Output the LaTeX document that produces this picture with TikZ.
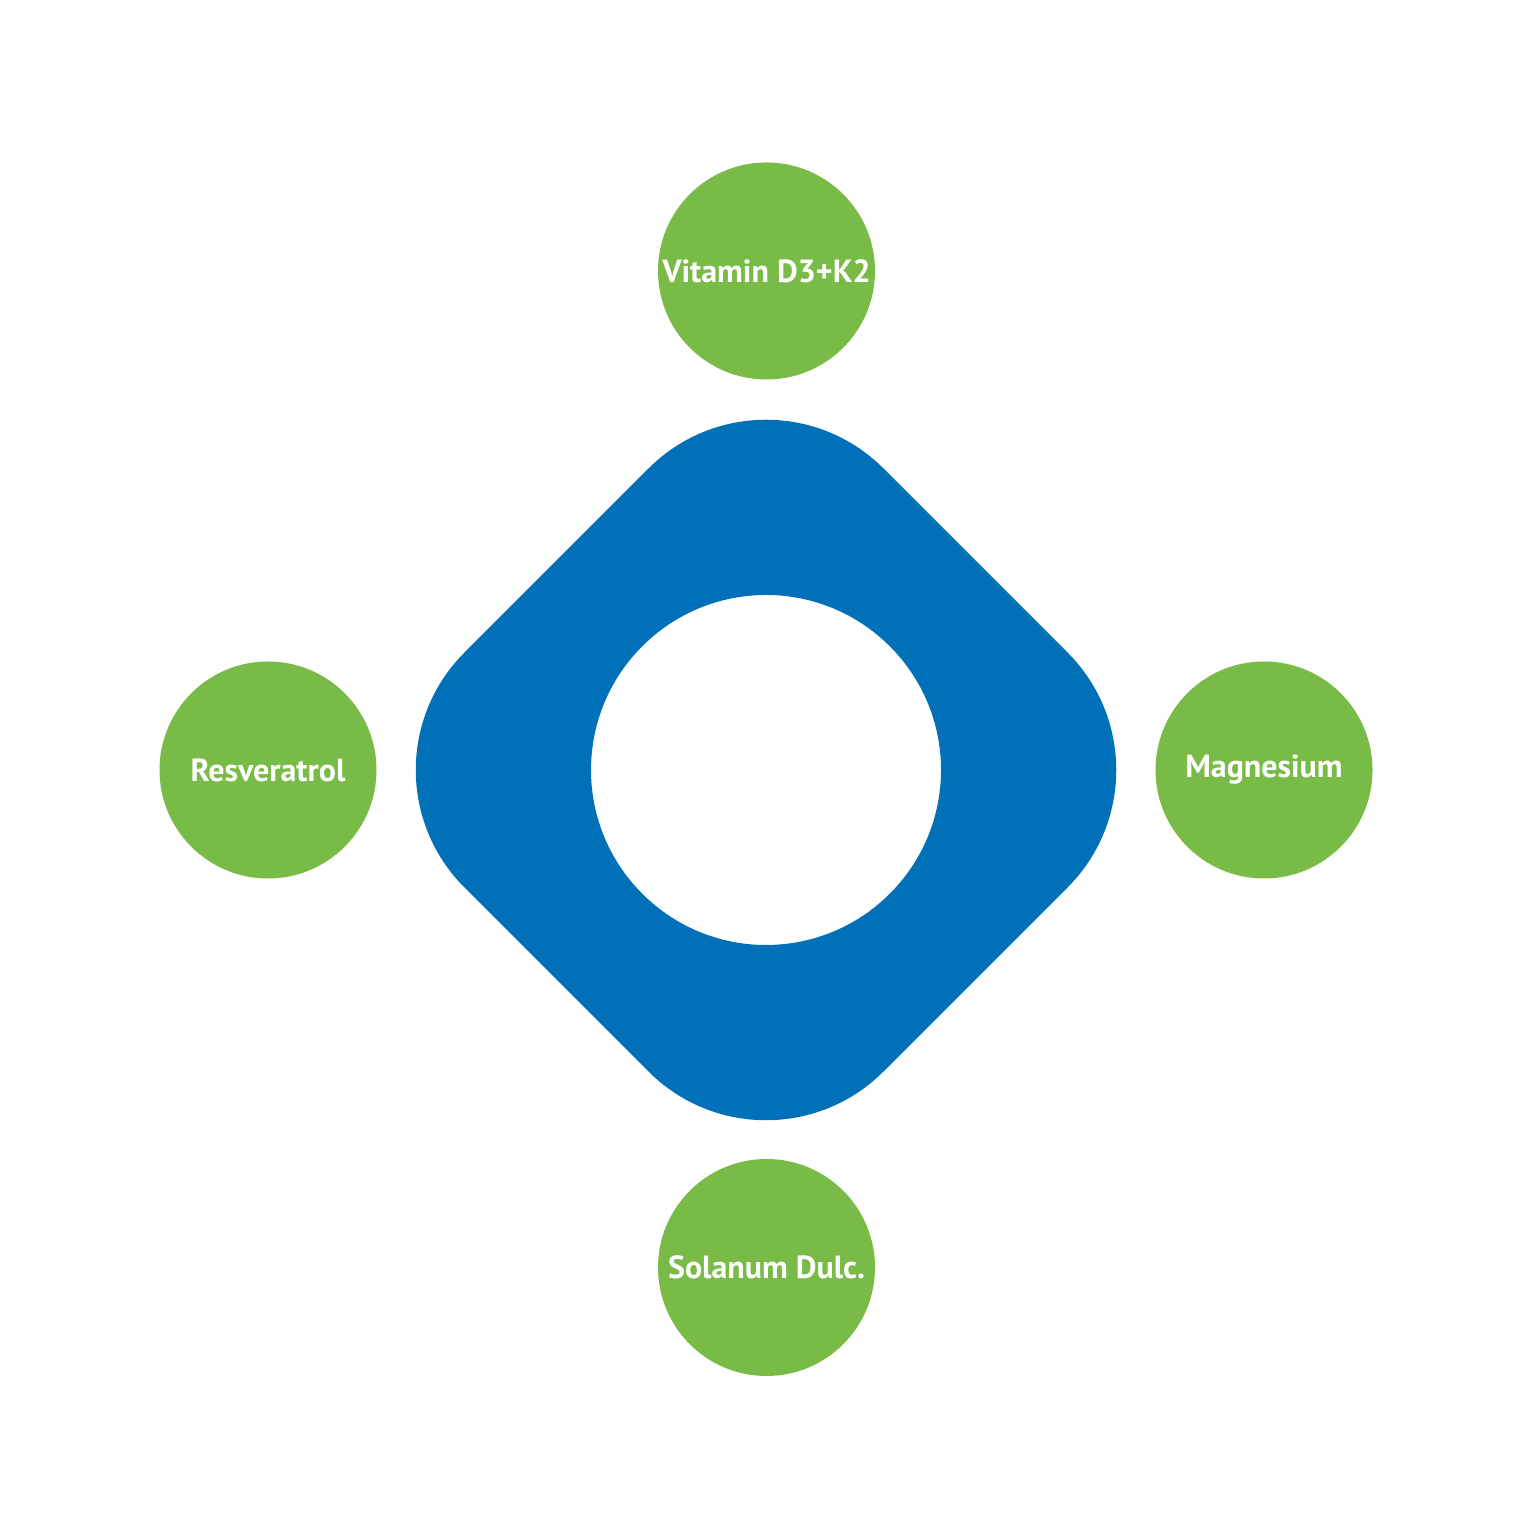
\documentclass[tikz,border=0pt]{standalone}
\usepackage{fontspec}
\setmainfont{PT Sans}
\usepackage{xcolor}
\definecolor{capblue}{RGB}{0, 113, 184}
\definecolor{capgreen}{RGB}{121, 187, 71}
\usepackage{tikz}
\usetikzlibrary{positioning}
\tikzset{
  ingredient/.style = {
    circle,
    fill=capgreen,
    text=white,
    font=\fontsize{9.1}{11}\selectfont\bfseries,
    align=center,
    inner sep=0pt,
    minimum size=2.17cm
  },
  corering/.style = {
    fill=capblue,
    even odd rule,
    rounded corners=1.66cm
  }
}

\begin{document}
\begin{tikzpicture}[x=1cm, y=1cm]
  \useasboundingbox (0, 0) rectangle (15.25, 15.25);

  % Centre: rounded diamond with round hole
  \coordinate (core) at (7.66, 7.55);
  \fill[corering] ([shift={(0, 4.19)}]core) -- ([shift={(4.19, 0)}]core)
    -- ([shift={(0, -4.19)}]core) -- ([shift={(-4.19, 0)}]core) -- cycle
    [sharp corners] (core) circle (1.75);

  % Ingredients round the centre
  \node[ingredient] (vitamin) at (7.665, 12.54) {Vitamin D3+K2};
  \node[ingredient] (resveratrol) at (2.68, 7.55) {Resveratrol};
  \node[ingredient] (magnesium) at (12.64, 7.55) {Magnesium};
  \node[ingredient] (solanum) at (7.665, 2.575) {Solanum Dulc.};
\end{tikzpicture}
\end{document}
